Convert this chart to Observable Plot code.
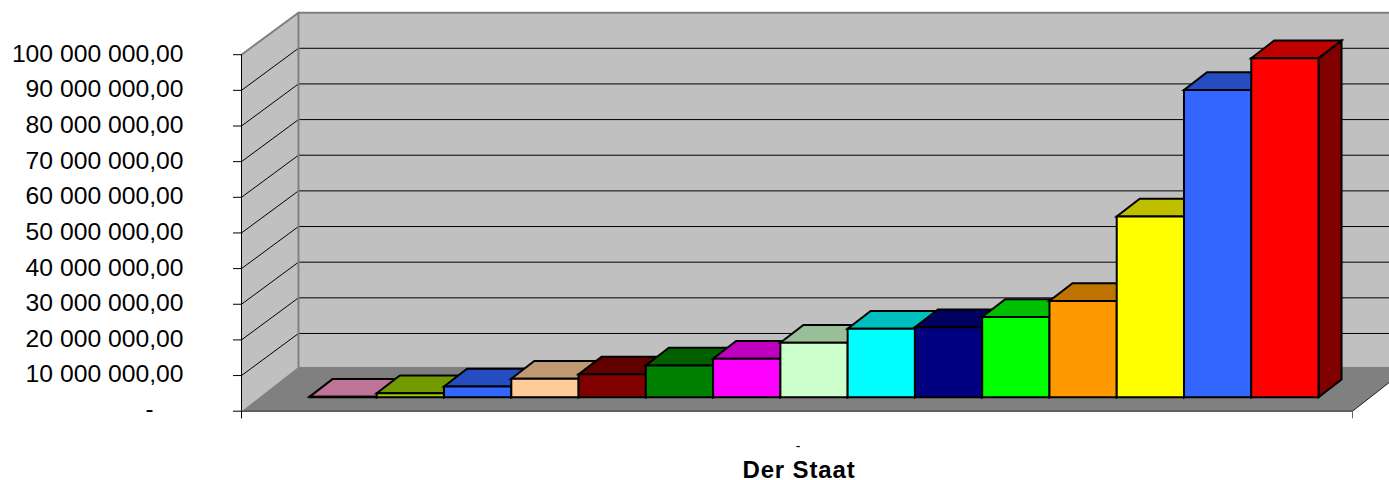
<!DOCTYPE html>
<html><head><meta charset="utf-8">
<script src="https://cdn.jsdelivr.net/npm/d3@7"></script>
<script src="https://cdn.jsdelivr.net/npm/@observablehq/plot@0.6"></script>
<style>
html,body{margin:0;padding:0;background:#fff;overflow:hidden}
svg{display:block}
[font-weight="bold"]{letter-spacing:.85px}
</style></head><body>
<div id="chart"></div>
<script>
const values = [100000, 1100000, 3000000, 5200000, 6400000, 8900000, 10800000, 15300000, 19200000, 19600000, 22500000, 27000000, 50700000, 86200000, 95100000];
const colors = ["#FF99CC","#99CC00","#3366FF","#FFCC99","#800000","#008000","#FF00FF","#CCFFCC","#00FFFF","#000080","#00FF00","#FF9900","#FFFF00","#3366FF","#FF0000"];
const yTicks = [0,10e6,20e6,30e6,40e6,50e6,60e6,70e6,80e6,90e6,100e6];

// chart box, in bar widths (x) and value units (y)
const xFront0 = -1.011, xFront1 = 15.505, xEnd = 16.055;
const wallX = 0.847, wallY = 11.8e6, floorY = 12.5e6;
const barBase = 3.93e6, barDepthX = 0.342, barDepthY = 4.97e6;

const shade = (c, k) => { const r = d3.rgb(c); return d3.rgb(r.r*k, r.g*k, r.b*k).formatHex(); };
const poly = (pts, o) => Plot.line(pts, {x: d=>d[0], y: d=>d[1], curve: "linear-closed", strokeLinejoin: "miter", strokeMiterlimit: 4, ...o});
const seg = (pts, o) => Plot.line(pts, {x: d=>d[0], y: d=>d[1], strokeLinejoin: "miter", strokeMiterlimit: 4, ...o});
const nf = d3.formatLocale({decimal: ",", thousands: " ", grouping: [3]}).format(",.2f");

const yMax = yTicks[yTicks.length-1];
const walls = [
  // back wall, left wall, floor
  poly([[xFront0+wallX,floorY],[xFront1+wallX,floorY],[xFront1+wallX,yMax+wallY],[xFront0+wallX,yMax+wallY]], {fill:"#C0C0C0", stroke:"none"}),
  poly([[xFront0,0],[xFront0+wallX,floorY],[xFront0+wallX,yMax+wallY],[xFront0,yMax]], {fill:"#C0C0C0", stroke:"none"}),
  poly([[xFront0,0],[xFront1,0],[xFront1+wallX,floorY],[xFront0+wallX,floorY]], {fill:"#808080", stroke:"none"}),
];
const grid = yTicks.slice(1,-1).map(v => seg([[xFront0,v],[xFront0+wallX,v+wallY],[xFront1+wallX,v+wallY]], {stroke:"#000", strokeWidth:1}));
const frame = [
  seg([[xFront0,yMax],[xFront0+wallX,yMax+wallY],[xFront1+wallX,yMax+wallY]], {stroke:"#808080", strokeWidth:2}),
  seg([[xFront0+wallX,floorY],[xFront0+wallX,yMax+wallY]], {stroke:"#808080", strokeWidth:2}),
  seg([[xFront0,yMax],[xFront0,-1.9e6]], {stroke:"#000", strokeWidth:1}),
  seg([[xFront0,0],[xFront1,0],[xFront1+wallX,floorY]], {stroke:"#222", strokeWidth:1}),
  seg([[xFront1,0],[xFront1,-1.9e6]], {stroke:"#666", strokeWidth:1}),
];
const bars = values.flatMap((v,i) => {
  const x0=i, x1=i+1, y0=barBase, y1=barBase+v, dx=barDepthX, dy=barDepthY, c=colors[i];
  const o={stroke:"#000", strokeWidth:2};
  return [
    poly([[x1,y0],[x1+dx,y0+dy],[x1+dx,y1+dy],[x1,y1]], {fill:shade(c,.5), ...o}),
    poly([[x0,y1],[x1,y1],[x1+dx,y1+dy],[x0+dx,y1+dy]], {fill:shade(c,.75), ...o}),
    poly([[x0,y0],[x1,y0],[x1,y1],[x0,y1]], {fill:c, ...o}),
  ];
});

const chart = Plot.plot({
  width: 1389, height: 480,
  marginLeft: 241, marginRight: 0, marginTop: 54.2, marginBottom: 69.3,
  style: {fontFamily: "'Liberation Sans', Arial, sans-serif", background: "#fff", color: "#000"},
  x: {axis: null, domain: [xFront0, xEnd]},
  y: {domain: [0, yMax]},
  marks: [
    ...walls, ...grid, ...frame,
    ...bars,
    Plot.axisY({ticks: yTicks, tickFormat: () => "", tickSize: 8, label: null, stroke: "#000"}),
    Plot.axisY({ticks: yTicks.slice(1), tickFormat: nf, tickSize: 0, tickPadding: 58, fontSize: 24.7, label: null, dy: -1}),
    Plot.text(["-"], {x: xFront0, y: 0, dx: -88, dy: -1.5, fontSize: 24, textAnchor: "end", fill: "#000"}),
    Plot.text(["-"], {x: (xFront0+xFront1)/2, y: -9.8e6, dx: 1, fontSize: 14, fill: "#000"}),
    Plot.text(["Der Staat"], {x: (xFront0+xFront1)/2, y: -16.8e6, dx: 2, dy: -1, fontSize: 24, fontWeight: "bold", fill: "#000"}),
  ]
});
document.getElementById("chart").append(chart);
</script></body></html>
